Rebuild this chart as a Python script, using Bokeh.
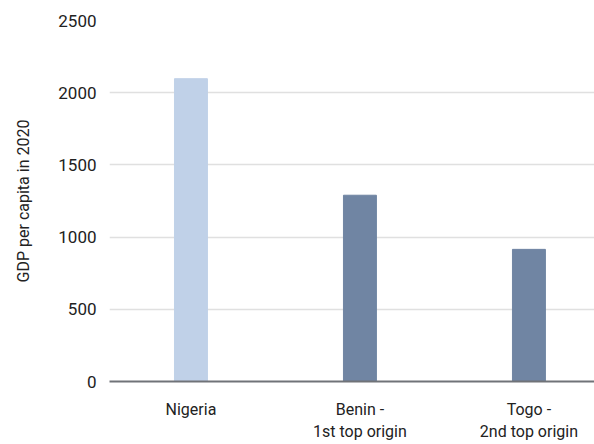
from bokeh.plotting import figure
from bokeh.models import Range1d, FixedTicker, ColumnDataSource
from bokeh.embed import file_html
from bokeh.resources import INLINE

categories = ["Nigeria", "Benin -\n1st top origin", "Togo -\n2nd top origin"]
gdp_2020 = [2097, 1290, 915]
bar_colors = ["#c0d1e8", "#7085a3", "#7085a3"]
y_ticks = [0, 500, 1000, 1500, 2000, 2500]

xs = list(range(len(categories)))
src = ColumnDataSource(dict(x=xs, top=gdp_2020, color=bar_colors))

p = figure(width=594, height=444, output_backend="svg", toolbar_location=None,
           x_range=Range1d(-0.482, 2.388), y_range=Range1d(0, 2500),
           min_border_left=109, min_border_right=0, min_border_top=20,
           min_border_bottom=63)
p.outline_line_color = None
p.vbar(x="x", top="top", width=0.195, color="color", source=src)

FONT = "Roboto"
p.xaxis.ticker = FixedTicker(ticks=xs)
p.xaxis.major_label_overrides = {i: c for i, c in zip(xs, categories)}
p.xaxis.major_tick_line_color = None
p.xaxis.minor_tick_line_color = None
p.xaxis.axis_line_color = "#707378"
p.xaxis.axis_line_width = 2
p.xaxis.major_label_text_font = FONT
p.xaxis.major_label_text_font_size = "16px"
p.xaxis.major_label_text_color = "#222222"
p.xaxis.major_label_standoff = 12
p.xgrid.grid_line_color = None

p.yaxis.ticker = FixedTicker(ticks=y_ticks)
p.yaxis.axis_line_color = None
p.yaxis.major_tick_line_color = None
p.yaxis.minor_tick_line_color = None
p.yaxis.major_label_text_font = FONT
p.yaxis.major_label_text_font_size = "17px"
p.yaxis.major_label_text_color = "#222222"
p.yaxis.major_label_standoff = 7
p.yaxis.axis_label = "GDP per capita in 2020"
p.yaxis.axis_label_text_font = FONT
p.yaxis.axis_label_text_font_style = "normal"
p.yaxis.axis_label_text_font_size = "16px"
p.yaxis.axis_label_text_color = "#222222"
p.yaxis.axis_label_standoff = 22
p.ygrid.grid_line_color = "#e0e0e0"
p.ygrid.grid_line_width = 1.5

open("out.html", "w").write(file_html(p, INLINE))
